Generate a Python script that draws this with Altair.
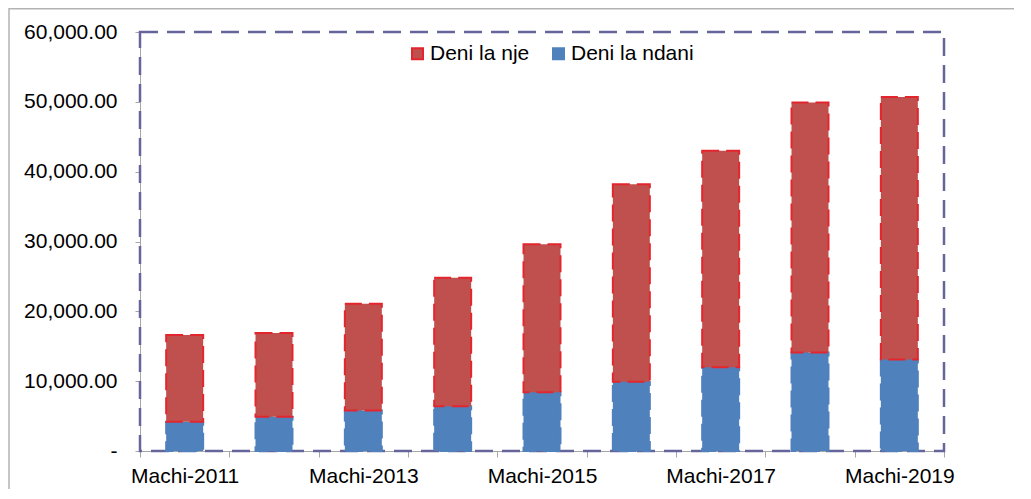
import altair as alt
import pandas as pd

# ---- data ----
categories = ["Machi-2011", "Machi-2012", "Machi-2013", "Machi-2014", "Machi-2015",
              "Machi-2016", "Machi-2017", "Machi-2018", "Machi-2019"]
deni_ndani = [4200, 4900, 5800, 6400, 8400, 9900, 12000, 14100, 13100]
deni_nje = [12400, 12000, 15300, 18400, 21200, 28300, 31000, 35800, 37600]
series_names = ["Deni la nje", "Deni la ndani"]
y_ticks = [0, 10000, 20000, 30000, 40000, 50000, 60000]

rows = []
for c, a, b in zip(categories, deni_ndani, deni_nje):
    rows.append({"cat": c, "series": "Deni la ndani", "value": a, "ord": 0})
    rows.append({"cat": c, "series": "Deni la nje", "value": b, "ord": 1})
df = pd.DataFrame(rows)

W, H = 804, 419
FONT = "Liberation Sans"
GRAY = "#a6a6a6"

legend = alt.Legend(
    title=None, orient="none", legendX=267, legendY=11, direction="horizontal",
    symbolType="square", symbolSize=121, symbolStrokeWidth=2,
    labelFontSize=21, labelFont=FONT, labelColor="black", labelOffset=2,
    columnPadding=18,
)

bars = alt.Chart(df).mark_bar(
    width=alt.RelativeBandSize(0.414), strokeWidth=2, strokeDash=[17, 7]
).encode(
    x=alt.X(
        "cat:N", sort=categories,
        scale=alt.Scale(paddingInner=0, paddingOuter=0),
        axis=alt.Axis(
            title=None, tickBand="extent", labelAngle=0, labelOverlap=False,
            labelExpr="toNumber(slice(datum.label, -4)) % 2 == 1 ? datum.label : ''",
            tickSize=6, labelPadding=8, tickColor=GRAY, domainColor=GRAY,
        ),
    ),
    y=alt.Y(
        "value:Q", stack="zero",
        scale=alt.Scale(domain=[0, 60000], nice=False),
        axis=alt.Axis(
            title=None, values=y_ticks, grid=False, tickSize=5, labelPadding=18,
            tickColor=GRAY, domainColor=GRAY,
            labelExpr="datum.value == 0 ? '-\u00a0\u00a0\u2009' : format(datum.value, ',.2f')",
        ),
    ),
    fill=alt.Fill("series:N", scale=alt.Scale(domain=series_names, range=["#c0504d", "#4f81bd"]), legend=legend),
    stroke=alt.Stroke("series:N", scale=alt.Scale(domain=series_names, range=["#e3262e", "#4f81bd"]), legend=legend),
    order=alt.Order("ord:Q"),
)

one = pd.DataFrame({"k": [0]})
frame = alt.Chart(one).mark_rect(
    filled=False, stroke="#65659c", strokeWidth=2.5, strokeDash=[18, 9]
).encode(x=alt.value(0), x2=alt.value(W), y=alt.value(0), y2=alt.value(H))

outer_top = alt.Chart(one).mark_rule(color="#b3b3b3", strokeWidth=1.5).encode(
    x=alt.value(-131), x2=alt.value(W + 80), y=alt.value(-23.2)
)
outer_left = alt.Chart(one).mark_rule(color="#b3b3b3", strokeWidth=1.5).encode(
    x=alt.value(-131), y=alt.value(-24), y2=alt.value(H + 40)
)

chart = alt.layer(frame, outer_top, outer_left, bars).properties(
    width=W, height=H,
    padding={"left": 132, "top": 24, "right": 70, "bottom": 38},
    autosize=alt.AutoSizeParams(type="none"),
).configure(font=FONT).configure_view(stroke=None).configure_axis(
    labelFont=FONT, labelFontSize=21, labelColor="black"
)

chart.save("out.html", embed_options={"renderer": "svg", "actions": False})
